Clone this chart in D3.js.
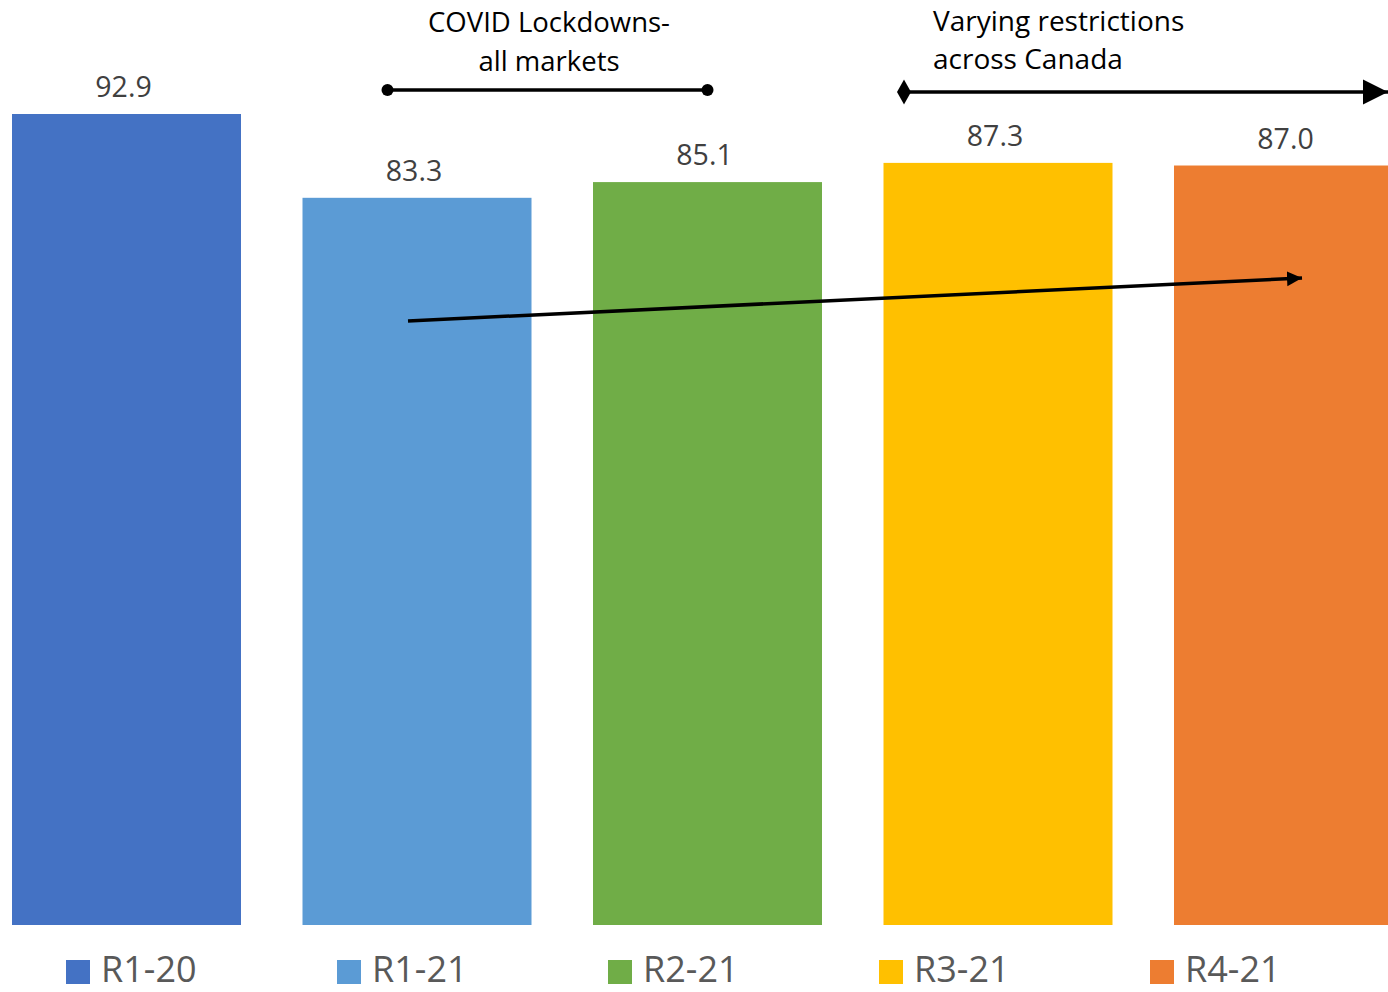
<!DOCTYPE html>
<html>
<head>
<meta charset="utf-8">
<script src="https://cdn.jsdelivr.net/npm/d3@7"></script>
<style>
  html, body { margin: 0; padding: 0; background: #fff; overflow: hidden; }
  svg { display: block; font-family: "Open Sans", "Noto Sans", sans-serif; }
</style>
</head>
<body>
<svg id="chart" width="1388" height="992"></svg>
<script>
// Survey rounds and their scores
const categories = ["R1-20", "R1-21", "R2-21", "R3-21", "R4-21"];
const values = [92.9, 83.3, 85.1, 87.3, 87.0];
const colors = ["#4472C4", "#5B9BD5", "#70AD47", "#FFC000", "#ED7D31"];

const W = 1388, H = 992;
const svg = d3.select("#chart");

// Bars share a zero baseline; the last bar runs past the right edge
const x = d3.scaleBand()
  .domain(categories)
  .range([12, 1403])
  .paddingInner(0.2117)
  .paddingOuter(0);

const y = d3.scaleLinear()
  .domain([0, 92.9])
  .range([925, 114]);

const color = d3.scaleOrdinal().domain(categories).range(colors);

const data = categories.map((c, i) => ({ cat: c, value: values[i] }));

svg.append("g")
  .selectAll("rect")
  .data(data)
  .join("rect")
  .attr("x", d => x(d.cat))
  .attr("y", d => y(d.value))
  .attr("width", x.bandwidth())
  .attr("height", d => y(0) - y(d.value))
  .attr("fill", d => color(d.cat));

// Value labels above each bar
svg.append("g")
  .selectAll("text")
  .data(data)
  .join("text")
  .attr("x", d => x(d.cat) + x.bandwidth() / 2 - 3)
  .attr("y", d => y(d.value) - 17)
  .attr("text-anchor", "middle")
  .attr("font-size", 28.5)
  .attr("fill", "#404040")
  .text(d => d.value.toFixed(1));

// Legend along the bottom
const legend = svg.append("g")
  .selectAll("g")
  .data(categories)
  .join("g")
  .attr("transform", (d, i) => `translate(${66 + i * 271},0)`);

legend.append("rect")
  .attr("x", 0).attr("y", 960)
  .attr("width", 24).attr("height", 24)
  .attr("fill", d => color(d));

legend.append("text")
  .attr("x", 35).attr("y", 982)
  .attr("font-size", 36)
  .attr("fill", "#595959")
  .text(d => d);

// Arrow markers
const defs = svg.append("defs");
defs.append("marker")
  .attr("id", "dot").attr("viewBox", "-10 -10 20 20")
  .attr("markerUnits", "userSpaceOnUse")
  .attr("markerWidth", 16).attr("markerHeight", 16)
  .attr("refX", 0).attr("refY", 0).attr("orient", "auto")
  .append("circle").attr("r", 7.5).attr("fill", "#000");

defs.append("marker")
  .attr("id", "diamond").attr("viewBox", "-10 -14 20 28")
  .attr("markerUnits", "userSpaceOnUse")
  .attr("markerWidth", 20).attr("markerHeight", 28)
  .attr("refX", 0).attr("refY", 0).attr("orient", "auto")
  .append("path").attr("d", "M-7,0L0,-12.5L7,0L0,12.5Z").attr("fill", "#000");

defs.append("marker")
  .attr("id", "bigArrow").attr("viewBox", "0 -14 28 28")
  .attr("markerUnits", "userSpaceOnUse")
  .attr("markerWidth", 28).attr("markerHeight", 28)
  .attr("refX", 25).attr("refY", 0).attr("orient", "auto")
  .append("path").attr("d", "M0,-12.5L25,0L0,12.5Z").attr("fill", "#000");

defs.append("marker")
  .attr("id", "smallArrow").attr("viewBox", "0 -10 20 20")
  .attr("markerUnits", "userSpaceOnUse")
  .attr("markerWidth", 20).attr("markerHeight", 20)
  .attr("refX", 15).attr("refY", 0).attr("orient", "auto")
  .append("path").attr("d", "M0,-7.5L15,0L0,7.5Z").attr("fill", "#000");

const ann = svg.append("g");

// Lockdown period bracket
const lockX0 = x("R1-21") + 85, lockX1 = x("R2-21") + x.bandwidth() / 2;
ann.append("line")
  .attr("x1", lockX0).attr("y1", 90).attr("x2", lockX1).attr("y2", 90)
  .attr("stroke", "#000").attr("stroke-width", 3.5)
  .attr("marker-start", "url(#dot)").attr("marker-end", "url(#dot)");

const lockText = ann.append("text")
  .attr("text-anchor", "middle")
  .attr("font-size", 27.5)
  .attr("fill", "#000");
lockText.append("tspan").attr("x", 549).attr("y", 32).text("COVID Lockdowns-");
lockText.append("tspan").attr("x", 549).attr("y", 71).text("all markets");

// Ongoing restrictions arrow
ann.append("line")
  .attr("x1", 904).attr("y1", 92).attr("x2", W).attr("y2", 92)
  .attr("stroke", "#000").attr("stroke-width", 3.5)
  .attr("marker-start", "url(#diamond)").attr("marker-end", "url(#bigArrow)");

const varText = ann.append("text")
  .attr("font-size", 28)
  .attr("fill", "#000");
varText.append("tspan").attr("x", 933).attr("y", 31).text("Varying restrictions");
varText.append("tspan").attr("x", 933).attr("y", 69).text("across Canada");

// Recovery trend arrow across the bars
ann.append("line")
  .attr("x1", 408).attr("y1", 321).attr("x2", 1302).attr("y2", 278)
  .attr("stroke", "#000").attr("stroke-width", 3.5)
  .attr("marker-end", "url(#smallArrow)");
</script>
</body>
</html>
